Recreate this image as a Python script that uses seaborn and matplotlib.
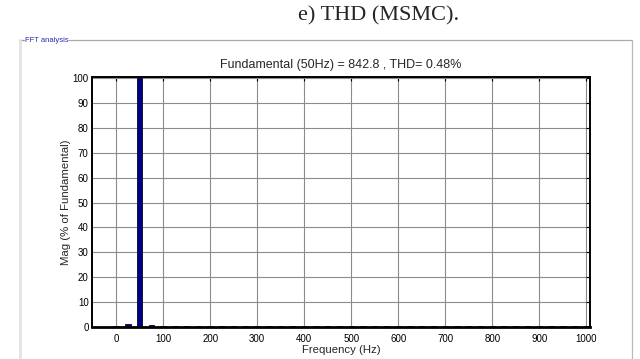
import matplotlib
matplotlib.use("Agg")
import matplotlib.pyplot as plt
from matplotlib import font_manager
from matplotlib.lines import Line2D
import seaborn as sns

# Harmonic spectrum (25 Hz resolution, 0..1000 Hz)
freq_hz = [0, 25, 50, 75, 100, 125, 150, 175, 200, 225, 250, 275, 300, 325, 350,
           375, 400, 425, 450, 475, 500, 525, 550, 575, 600, 625, 650, 675, 700,
           725, 750, 775, 800, 825, 850, 875, 900, 925, 950, 975, 1000]
mag_pct = [0.3, 1.2, 100.0, 0.8, 0.6, 0.6, 0.6, 0.6, 0.6, 0.6, 0.6, 0.6, 0.6, 0.6, 0.6,
           0.6, 0.6, 0.6, 0.6, 0.6, 0.6, 0.6, 0.6, 0.6, 0.6, 0.6, 0.6, 0.6, 0.6,
           0.6, 0.6, 0.6, 0.6, 0.6, 0.6, 0.6, 0.6, 0.6, 0.6, 0.6, 0.6]
x_ticks = [0, 100, 200, 300, 400, 500, 600, 700, 800, 900, 1000]
y_ticks = [0, 10, 20, 30, 40, 50, 60, 70, 80, 90, 100]

fundamental_freq = 50
fundamental_mag = 842.8
thd_pct = 0.48

sns.set_style("white")

installed = {f.name for f in font_manager.fontManager.ttflist}
if "Liberation Sans Narrow" in installed:
    sans = ["Liberation Sans Narrow", "DejaVu Sans"]
    fs_tick, fs_label, fs_title, fs_box = 8, 8.5, 9.5, 6.5
else:
    sans = ["Liberation Sans", "DejaVu Sans"]
    fs_tick, fs_label, fs_title, fs_box = 7, 8.2, 9, 5.5
plt.rcParams["font.family"] = sans

fig = plt.figure(figsize=(6.4, 3.59), dpi=100)
ax = fig.add_axes([0.144, 0.089, 0.778, 0.697])

sns.barplot(x=freq_hz, y=mag_pct, native_scale=True, width=0.46,
            color="#00007f", edgecolor="#000040", linewidth=0.6,
            saturation=1, ax=ax)

ax.set_xlim(-51, 1008)
ax.set_ylim(0, 100.5)
ax.set_xticks(x_ticks)
ax.set_yticks(y_ticks)
ax.grid(True, color="#8c8c8c", linewidth=0.8, linestyle="-")
ax.set_axisbelow(True)
ax.tick_params(direction="in", length=3, width=0.8, labelsize=fs_tick,
               top=True, right=True, colors="black")
ax.tick_params(axis="y", pad=2.5)
ax.tick_params(axis="x", pad=5)
for side in ["left", "bottom", "top", "right"]:
    ax.spines[side].set_visible(True)
    ax.spines[side].set_color("black")
    ax.spines[side].set_linewidth(1.4)
ax.spines["bottom"].set_linewidth(2.0)

ax.set_xlabel("Frequency (Hz)", fontsize=fs_label, labelpad=1)
ax.set_ylabel("Mag (% of Fundamental)", fontsize=fs_label, labelpad=1)
ax.set_title(f"Fundamental ({fundamental_freq}Hz) = {fundamental_mag} , THD= {thd_pct}%",
             fontsize=fs_title, pad=6)

# Figure heading
fig.text(0.592, 0.955, "e) THD (MSMC).", fontsize=16, ha="center", va="center",
         family=["Liberation Serif", "DejaVu Serif"])

# Panel frame around the analysis
y_top = 1 - 40 / 359
fig.add_artist(Line2D([19 / 640, 24 / 640], [y_top, y_top], color="#999999", lw=0.9))
fig.add_artist(Line2D([69 / 640, 632 / 640], [y_top, y_top], color="#aaaaaa", lw=0.9))
fig.add_artist(Line2D([20 / 640, 20 / 640], [0, y_top], color="#e3e3e3", lw=2.0))
fig.add_artist(Line2D([632 / 640, 632 / 640], [0, y_top], color="#bbbbbb", lw=0.9))
fig.text(25 / 640, y_top, "FFT analysis", fontsize=fs_box, color="#2b2bb0",
         ha="left", va="center")

fig.savefig("out.png", dpi=100)
